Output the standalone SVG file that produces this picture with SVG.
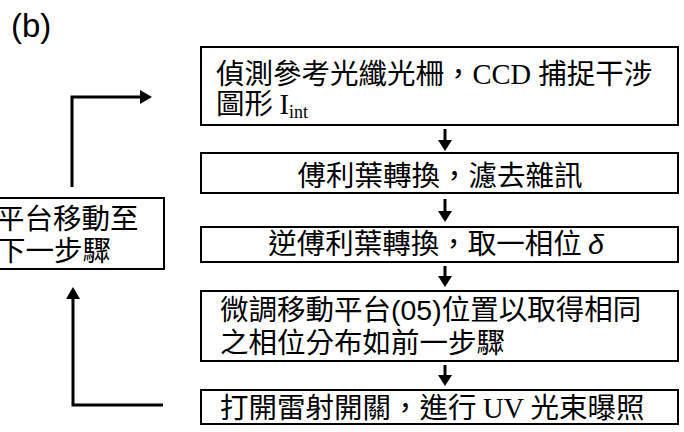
<svg xmlns="http://www.w3.org/2000/svg" width="684" height="432" viewBox="0 0 684 432">
<defs>
<style>
.box{fill:#fff;stroke:#000;stroke-width:2}
.t{font-family:"Noto Sans CJK TC","Noto Sans CJK SC",sans-serif;font-size:28.5px;fill:#000}
.s{font-family:"Liberation Serif",serif}
.a{font-family:"Liberation Sans",sans-serif}
.ln{fill:none;stroke:#000;stroke-width:3}
.ah{fill:#000}
</style>
</defs>
<rect width="684" height="432" fill="#fff"/>
<text x="11" y="37" font-family="Liberation Sans, sans-serif" font-size="33">(b)</text>
<g id="n1">
<rect class="box" x="201" y="47" width="477" height="78"/>
<text class="t" x="216" y="84">偵測參考光纖光柵，<tspan class="s">CCD </tspan>捕捉干涉</text>
<text class="t" x="216" y="114">圖形 <tspan class="s">I</tspan><tspan class="s" font-size="18" dy="4">int</tspan></text>
</g>
<g id="n2">
<rect class="box" x="201" y="153" width="477" height="40"/>
<text class="t" x="440" y="186" text-anchor="middle">傅利葉轉換，濾去雜訊</text>
</g>
<g id="n3">
<rect class="box" x="201" y="227" width="477" height="35"/>
<text class="t" x="436" y="254" text-anchor="middle">逆傅利葉轉換，取一相位 <tspan class="a" font-style="italic">δ</tspan></text>
</g>
<g id="n4">
<rect class="box" x="201" y="291" width="477" height="70"/>
<text class="t" x="220" y="320">微調移動平台<tspan class="a">(05)</tspan>位置以取得相同</text>
<text class="t" x="220" y="353">之相位分布如前一步驟</text>
</g>
<g id="n5">
<rect class="box" x="201" y="390" width="477" height="34"/>
<text class="t" x="220" y="418">打開雷射開關，進行 <tspan class="s">UV</tspan> 光束曝照</text>
</g>
<g id="n6">
<rect class="box" x="-10" y="198" width="174" height="71"/>
<text class="t" x="-4" y="229">平台移動至</text>
<text class="t" x="-3" y="261">下一步驟</text>
</g>
<g id="connectors">
<line class="ln" x1="445" y1="129" x2="445" y2="143"/>
<polygon class="ah" points="438,140 452,140 445,151"/>
<line class="ln" x1="445" y1="199" x2="445" y2="213"/>
<polygon class="ah" points="438,211 452,211 445,222"/>
<line class="ln" x1="445" y1="266" x2="445" y2="278"/>
<polygon class="ah" points="438,276 452,276 445,287"/>
<line class="ln" x1="445" y1="365" x2="445" y2="377"/>
<polygon class="ah" points="438,375 452,375 445,386"/>
<polyline class="ln" points="163,405 73,405 73,296"/>
<polygon class="ah" points="66,299 80,299 73,287"/>
<polyline class="ln" points="72,187 72,97 142,97"/>
<polygon class="ah" points="140,90 140,104 152,97"/>
</g>
</svg>
